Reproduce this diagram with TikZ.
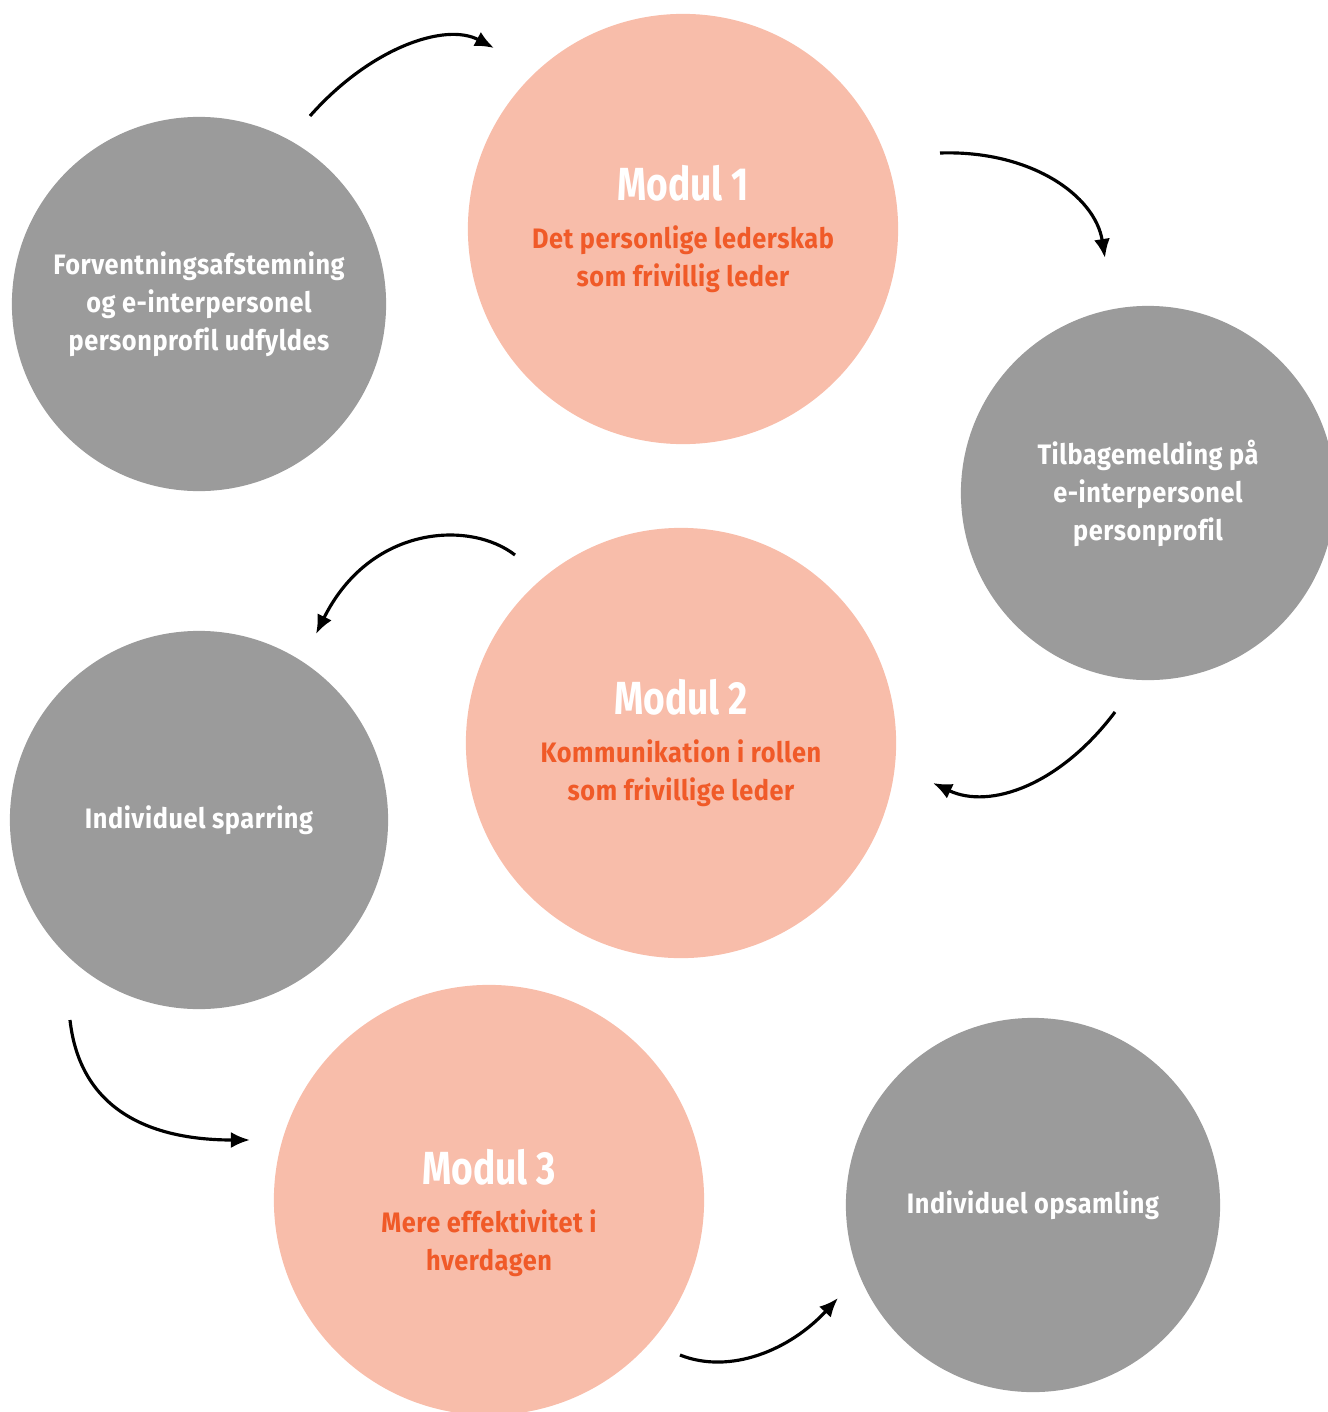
\documentclass[tikz,border=0pt]{standalone}
\usepackage{fontspec}
\setmainfont{Fira Sans}[FakeStretch=0.9, LetterSpace=2, Ligatures=NoCommon]
\newfontfamily\titlefont{Fira Sans}[FakeStretch=0.8]
\usetikzlibrary{arrows.meta}

\definecolor{stepgray}{HTML}{9B9B9B}
\definecolor{modsalmon}{HTML}{F8BDAA}
\definecolor{modorange}{HTML}{F05A28}

\tikzset{
	modcircle/.style={circle, fill=modsalmon, minimum size=4.3cm, inner sep=0pt, align=center, text=modorange, font=\bfseries\fontsize{8}{10.8}\selectfont},
	stepcircle/.style={circle, fill=stepgray, minimum size=3.74cm, inner sep=0pt, align=center, text=white, font=\bfseries\fontsize{8}{10.8}\selectfont},
	flow/.style={line width=0.9pt, -{Latex[length=1.9mm, width=1.6mm]}}
}
\newcommand{\modtitle}[1]{{\color{white}\titlefont\bfseries\fontsize{13.2}{15}\selectfont #1}}

\begin{document}
\begin{tikzpicture}[x=0.01cm, y=-0.01cm]

	\useasboundingbox (0,0) rectangle (1328,1412);

	% grey steps
	\node[stepcircle] (forv) at (199,304) {Forventningsafstemning\\og e-interpersonel\\personprofil udfyldes};
	\node[stepcircle] (tilb) at (1148,493) {Tilbagemelding på\\e-interpersonel\\personprofil};
	\node[stepcircle, minimum size=3.78cm] (spar) at (199,820) {Individuel sparring};
	\node[stepcircle] (opsa) at (1033,1205) {Individuel opsamling};

	% modules
	\node[modcircle] (mod1) at (683,229) {\modtitle{Modul 1}\\[3pt]Det personlige lederskab\\som frivillig leder};
	\node[modcircle] (mod2) at (681,743) {\modtitle{Modul 2}\\[3pt]Kommunikation i rollen\\som frivillige leder};
	\node[modcircle] (mod3) at (489,1200) {};
	\node[align=center, text=modorange, font=\bfseries\fontsize{8}{10.8}\selectfont] (mod3txt) at (489,1213) {\modtitle{Modul 3}\\[3pt]Mere effektivitet i\\hverdagen};

	% arrow ends
	\coordinate (a1s) at (310,116);  \coordinate (a1e) at (494,48);
	\coordinate (a2s) at (940,153);  \coordinate (a2e) at (1105,258);
	\coordinate (a3s) at (1115,712); \coordinate (a3e) at (933,783);
	\coordinate (a4s) at (515,555);  \coordinate (a4e) at (316,634);
	\coordinate (a5s) at (70,1020);  \coordinate (a5e) at (250,1140);
	\coordinate (a6s) at (680,1355); \coordinate (a6e) at (838,1298);

	% arrows
	\draw[flow] (a1s) .. controls (370,48) and (445,22) .. (a1e);
	\draw[flow] (a2s) .. controls (1030,150) and (1095,195) .. (a2e);
	\draw[flow] (a3s) .. controls (1060,785) and (990,810) .. (a3e);
	\draw[flow] (a4s) .. controls (470,520) and (370,525) .. (a4e);
	\draw[flow] (a5s) .. controls (80,1110) and (150,1140) .. (a5e);
	\draw[flow] (a6s) .. controls (730,1375) and (790,1350) .. (a6e);

\end{tikzpicture}
\end{document}
